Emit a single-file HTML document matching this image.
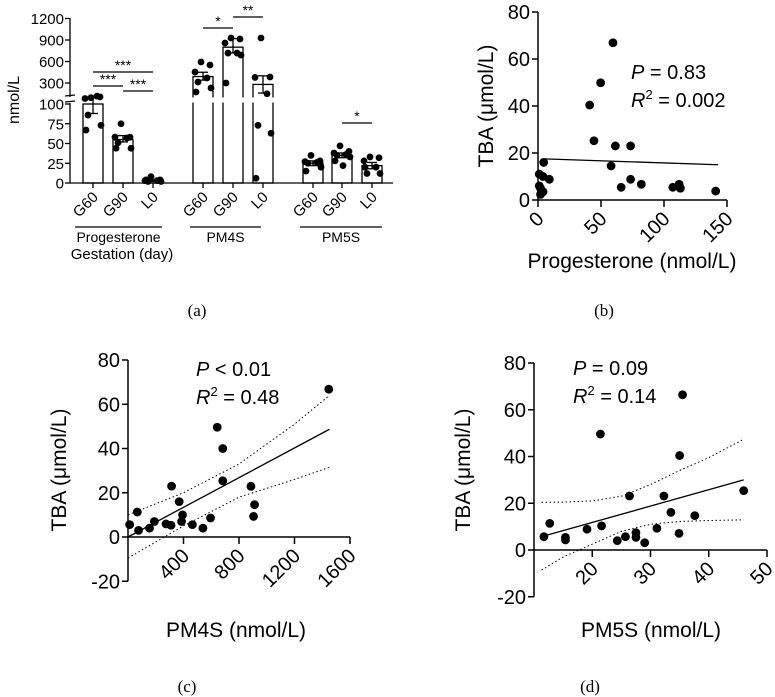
<!DOCTYPE html>
<html><head><meta charset="utf-8"><style>
html,body{margin:0;padding:0;background:#fff;}
svg{display:block;font-family:"Liberation Sans",Arial,sans-serif;}
</style></head><body>
<svg id="fig" width="775" height="697" viewBox="0 0 775 697">
<g id="pa"></g>
<g id="pb"></g>
<g id="pc"></g>
<g id="pd"></g>
</svg>
<script>
// ---------- Panel A data ----------
const aCats = ['G60','G90','L0','G60','G90','L0','G60','G90','L0'];
const aGroups = ['Progesterone','PM4S','PM5S'];
const aBars = [100,55,3,390,800,280,25,35,22];
const aErrLo = [88,52,2,340,720,160,22,32,18];
const aErrHi = [108,60,4,450,920,400,28,38,26];
const aPts0 = [108,109,107,110,86,73,67];
const aPts1 = [75,58,58,57,51,44,44];
const aPts2 = [8,4,3,3,2,2,4];
const aPts3 = [593,551,453,370,314,230,174];
const aPts4 = [928,914,858,718,718,690,300];
const aPts5 = [928,384,378,150,73,63,6];
const aPts6 = [35,28,27,26,25,20,15];
const aPts7 = [47,40,38,36,35,33,28,22];
const aPts8 = [33,32,28,20,12,12,20];
const aLowTicks = [0,25,50,75,100];
const aHighTicks = [300,600,900,1200];
const aSig = [['***',0,2,72],['***',0,1,86],['***',1,2,91],['*',3,4,28],['**',4,5,17],['*',7,8,123]];

// ---------- Panel B data ----------
const bX = [59.5,49.7,41,44.4,61.4,73.5,58,66,73.5,82,107,112,113,141,4.5,1,4,9,2,4,2,1];
const bY = [66.9,49.9,40.4,25.2,23,23,14.5,5.4,8.8,6.7,5.4,6.7,5,3.8,16,11,10,8.8,5,3.5,2.4,6];
const bXTicks = [0,50,100,150];
const bYTicks = [0,20,40,60,80];
const bFitX = [5,143];
const bFitY = [17.5,15];

// ---------- Panel C data ----------
const cX = [1447,643,683,683,886,912,905,314,369,393,386,464,540,595,274,310,67,12,76,155,190];
const cY = [66.8,49.6,40,25.4,22.9,14.6,9.3,23,16,10,7,5.6,4,8.6,5.9,5.3,11.3,5.6,3,4,7];
const cXTicks = [400,800,1200,1600];
const cYTicks = [-20,0,20,40,60,80];
const cFitX = [0,1452];
const cFitY = [0,48.7];
const cCiX = [0,400,800,1200,1452];
const cCiHi = [10,20,33,51,64];
const cCiLo = [-9.5,5,18,26,31.5];

// ---------- Panel D data ----------
const dX = [35.5,21.4,35,46,26.4,32.3,33.5,37.6,12.7,11.7,15.4,15.4,19.1,21.6,24.3,25.7,27.5,27.5,29,31.1,34.9];
const dY = [66.4,49.6,40.4,25.4,23.1,23.1,16.1,14.7,11.4,5.7,5.4,4.3,8.9,10.3,4,5.7,7.4,5.4,3.1,9.3,7.1];
const dXTicks = [20,30,40,50];
const dYTicks = [-20,0,20,40,60,80];
const dFitX = [11.3,46];
const dFitY = [5.7,30];
const dCiX = [11.3,15,20,25,30,35,40,46];
const dCiHi = [20.4,20.5,21,23,28,34,39.5,47.4];
const dCiLo = [-8.6,-3,2.5,8,11,12.2,12.6,12.9];

const NS='http://www.w3.org/2000/svg';
function mk(parent, tag, attrs, text){
  const e=document.createElementNS(NS,tag);
  for(const k in attrs) e.setAttribute(k,attrs[k]);
  if(text!==undefined) e.textContent=text;
  parent.appendChild(e); return e;
}
function line(p,x1,y1,x2,y2,w,dash){
  const e=mk(p,'line',{x1:x1,y1:y1,x2:x2,y2:y2,stroke:'#000','stroke-width':w||1.5});
  if(dash) e.setAttribute('stroke-dasharray',dash);
  return e;
}

// ================= Panel A =================
(function(){
  const g=document.getElementById('pa');
  const ax=70, y0=183;
  function ya(v){ return v<=110 ? y0 - v*0.79 : 83-(v-300)*21.5/300; }
  const cx=[93,123,153,203,233,263,313,342,372];
  const pts=[aPts0,aPts1,aPts2,aPts3,aPts4,aPts5,aPts6,aPts7,aPts8];
  const jit=[-2,7,-8,4,-5,8,-7,1];
  for(let i=0;i<aBars.length;i++){
    const r=mk(g,'rect',{x:cx[i]-10,y:ya(aBars[i]),width:20,height:y0-ya(aBars[i]),fill:'#fff',stroke:'#000','stroke-width':1.3});
    
    
  }
  mk(g,'rect',{x:190,y:97.5,width:85,height:5,fill:'#fff'});
  for(let i=0;i<pts.length;i++){
    pts[i].forEach((v,j)=>{
      const c=mk(g,'circle',{cx:cx[i]+jit[j%jit.length],cy:ya(v),r:3.4,fill:'#000'});
      
      
    });
    const e=mk(g,'g',{});
    
    
    line(e,cx[i],ya(aErrLo[i]),cx[i],ya(aErrHi[i]),1.3);
    line(e,cx[i]-5,ya(aErrLo[i]),cx[i]+5,ya(aErrLo[i]),1.3);
    line(e,cx[i]-5,ya(aErrHi[i]),cx[i]+5,ya(aErrHi[i]),1.3);
  }
  const axg=mk(g,'g',{});
  
  
  line(axg,ax,18,ax,97,1.3);
  line(axg,ax,103,ax,y0,1.3);
  line(axg,ax-5,96,ax+5,95,1.3);
  line(axg,ax-5,102,ax+5,101,1.3);
  aLowTicks.concat(aHighTicks).forEach(v=>{
    line(axg,ax-5,ya(v),ax,ya(v),1.3);
    const t=mk(axg,'text',{x:ax-6,y:ya(v)+5.5,'text-anchor':'end','font-size':15},String(v));
    
    
  });
  const xa=line(g,ax,y0,393,y0,1.3);
  
  
  cx.forEach((x,i)=>{
    line(g,x,y0,x,y0+5,1.3);
    const t=mk(g,'text',{x:x+6,y:y0+15,'text-anchor':'end','font-size':15,transform:`rotate(-45 ${x+6} ${y0+15})`},aCats[i]);
    
    
  });
  const gx=[[75,162],[190,261],[300,382]];
  aGroups.forEach((n,k)=>{
    line(g,gx[k][0],227,gx[k][1],227,1.2);
    const t=mk(g,'text',{x:(gx[k][0]+gx[k][1])/2,y:242,'text-anchor':'middle','font-size':14},n);
    
    
  });
  const xt=mk(g,'text',{x:122,y:259,'text-anchor':'middle','font-size':15},'Gestation (day)');
  
  
  const yt=mk(g,'text',{x:19,y:100,'text-anchor':'middle','font-size':16,transform:'rotate(-90 19 100)'},'nmol/L');
  
  
  aSig.forEach(s=>{
    const sg=mk(g,'g',{});
    
    
    line(sg,cx[s[1]],s[3],cx[s[2]],s[3],1.2);
    mk(sg,'text',{x:(cx[s[1]]+cx[s[2]])/2,y:s[3]-2,'text-anchor':'middle','font-size':14},s[0]);
  });
  const lab=mk(g,'text',{x:197,y:316,'text-anchor':'middle','font-size':17,'font-family':'Liberation Serif, serif'},'(a)');
  
  
})();

// ================= Scatter panel helper =================
function scatter(id,cfg){
  const g=document.getElementById(id);
  const xs=v=>cfg.px0+(v-cfg.xmin)*cfg.kx;
  const ys=v=>cfg.py0-(v)*cfg.ky;
  const yTop=ys(cfg.yTicks[cfg.yTicks.length-1]);
  const yBot=ys(cfg.yTicks[0]);
  const ya=mk(g,'g',{});
  
  
  line(ya,cfg.px0,yTop,cfg.px0,yBot,1.5);
  cfg.yTicks.forEach(v=>{
    line(ya,cfg.px0-6,ys(v),cfg.px0,ys(v),1.5);
    const t=mk(ya,'text',{x:cfg.px0-8,y:ys(v)+7,'text-anchor':'end','font-size':20},String(v));
    
    
  });
  const xa=mk(g,'g',{});
  
  
  const xEnd=xs(cfg.xTicks[cfg.xTicks.length-1]);
  line(xa,cfg.px0,cfg.py0,xEnd,cfg.py0,1.5);
  cfg.xTicks.forEach(v=>{
    line(xa,xs(v),cfg.py0,xs(v),cfg.py0+7,1.5);
    const tx=xs(v)+7, ty=cfg.py0+20;
    const t=mk(xa,'text',{x:tx,y:ty,'text-anchor':'end','font-size':20,transform:`rotate(-45 ${tx} ${ty})`},String(v));
    
    
  });
  if(cfg.ciX){
    const up=cfg.ciX.map((x,i)=>xs(x)+','+ys(cfg.ciHi[i])).join(' ');
    const lo=cfg.ciX.map((x,i)=>xs(x)+','+ys(cfg.ciLo[i])).join(' ');
    const u=mk(g,'polyline',{points:up,fill:'none',stroke:'#000','stroke-width':1,'stroke-dasharray':'1.5,2.5'});
    
    
    const l=mk(g,'polyline',{points:lo,fill:'none',stroke:'#000','stroke-width':1,'stroke-dasharray':'1.5,2.5'});
    
    
  }
  const f=line(g,xs(cfg.fitX[0]),ys(cfg.fitY[0]),xs(cfg.fitX[1]),ys(cfg.fitY[1]),1.3);
  
  
  cfg.X.forEach((x,i)=>{
    const c=mk(g,'circle',{cx:xs(x),cy:ys(cfg.Y[i]),r:4.4,fill:'#000'});
    
    
  });
  const yt=mk(g,'text',{x:cfg.ytx,y:cfg.yty,'text-anchor':'middle','font-size':21,transform:`rotate(-90 ${cfg.ytx} ${cfg.yty})`},'TBA (\u03bcmol/L)');
  
  
  const xt=mk(g,'text',{x:cfg.xtx,y:cfg.xty,'text-anchor':'middle','font-size':21},cfg.xTitle);
  
  
  const p=mk(g,'text',{x:cfg.sx,y:cfg.sy,'font-size':20});
  
  
  mk(p,'tspan',{'font-style':'italic'},'P');
  mk(p,'tspan',{},cfg.pText);
  const r=mk(g,'text',{x:cfg.sx,y:cfg.sy+28,'font-size':20});
  
  
  mk(r,'tspan',{'font-style':'italic'},'R');
  mk(r,'tspan',{dy:-8,'font-size':13},'2');
  mk(r,'tspan',{dy:8},cfg.rText);
  const lab=mk(g,'text',{x:cfg.lx,y:cfg.ly,'text-anchor':'middle','font-size':17,'font-family':'Liberation Serif, serif'},cfg.label);
  
  
}

scatter('pb',{X:bX,Y:bY,xTicks:bXTicks,yTicks:bYTicks,fitX:bFitX,fitY:bFitY,
  px0:538,xmin:0,kx:189/150,py0:200,ky:188/80,
  ytx:493,yty:106,xtx:632,xty:268,xTitle:'Progesterone (nmol/L)',
  sx:631,sy:79,pText:' = 0.83',rText:' = 0.002',lx:604,ly:316,label:'(b)'});
scatter('pc',{X:cX,Y:cY,xTicks:cXTicks,yTicks:cYTicks,fitX:cFitX,fitY:cFitY,ciX:cCiX,ciHi:cCiHi,ciLo:cCiLo,
  px0:128,xmin:0,kx:222/1600,py0:537,ky:177/80,
  ytx:66,yty:470,xtx:236,xty:637,xTitle:'PM4S (nmol/L)',
  sx:196,sy:376,pText:' < 0.01',rText:' = 0.48',lx:187,ly:692,label:'(c)'});
scatter('pd',{X:dX,Y:dY,xTicks:dXTicks,yTicks:dYTicks,fitX:dFitX,fitY:dFitY,ciX:dCiX,ciHi:dCiHi,ciLo:dCiLo,
  px0:534,xmin:10,kx:233/40,py0:550,ky:187/80,
  ytx:470,yty:470,xtx:651,xty:637,xTitle:'PM5S (nmol/L)',
  sx:573,sy:375,pText:' = 0.09',rText:' = 0.14',lx:590,ly:692,label:'(d)'});
</script>
</body></html>
